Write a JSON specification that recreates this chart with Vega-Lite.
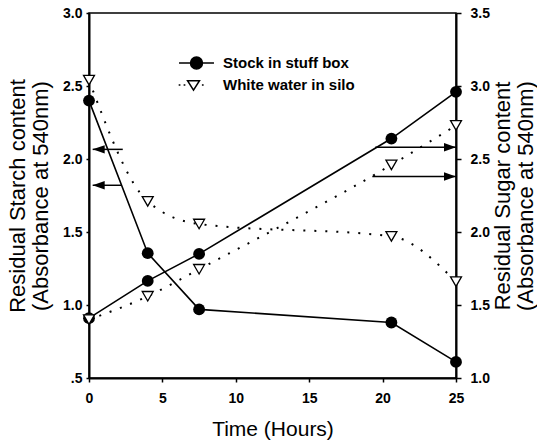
{
  "$schema": "https://vega.github.io/schema/vega-lite/v6.json",
  "width": 367,
  "height": 365,
  "autosize": {"type": "none"},
  "padding": {"left": 89, "top": 13, "right": 81, "bottom": 63},
  "background": "white",
  "config": {
    "font": "Liberation Sans",
    "view": {"stroke": "black", "strokeWidth": 1.5},
    "axis": {
      "grid": false,
      "domainColor": "black",
      "domainWidth": 2,
      "tickColor": "black",
      "tickWidth": 1.5,
      "labelColor": "black",
      "titleColor": "black",
      "labelFont": "Liberation Sans",
      "labelFontSize": 14,
      "labelFontWeight": "bold",
      "titleFont": "Liberation Sans",
      "titleFontSize": 22,
      "titleFontWeight": "normal",
      "titleLineHeight": 23,
      "labelFlush": false,
      "labelOverlap": false
    }
  },
  "datasets": {
    "measurements": [
      {"time": 0, "sample": "Stock in stuff box", "starch": 2.40, "sugar": 1.41},
      {"time": 4, "sample": "Stock in stuff box", "starch": 1.355, "sugar": 1.665},
      {"time": 7.5, "sample": "Stock in stuff box", "starch": 0.97, "sugar": 1.85},
      {"time": 20.6, "sample": "Stock in stuff box", "starch": 0.88, "sugar": 2.64},
      {"time": 25, "sample": "Stock in stuff box", "starch": 0.61, "sugar": 2.96},
      {"time": 0, "sample": "White water in silo", "starch": 2.54, "sugar": 1.40},
      {"time": 4, "sample": "White water in silo", "starch": 1.71, "sugar": 1.56},
      {"time": 7.5, "sample": "White water in silo", "starch": 1.555, "sugar": 1.745},
      {"time": 20.6, "sample": "White water in silo", "starch": 1.47, "sugar": 2.46},
      {"time": 25, "sample": "White water in silo", "starch": 1.16, "sugar": 2.73}
    ],
    "arrows": [
      {"side": "left", "time": 0.25, "time2": 2.3, "starch": 2.066},
      {"side": "left", "time": 0.25, "time2": 2.2, "starch": 1.82},
      {"side": "right", "time": 25, "time2": 19.5, "sugar": 2.58},
      {"side": "right", "time": 25, "time2": 19.3, "sugar": 2.38}
    ]
  },
  "encoding": {
    "x": {
      "field": "time",
      "type": "quantitative",
      "scale": {"domain": [0, 25], "nice": false, "zero": false},
      "axis": {
        "values": [0, 5, 10, 15, 20, 25],
        "title": "Time (Hours)",
        "titleFontSize": 21,
        "tickSize": 4,
        "labelPadding": 9,
        "titlePadding": 13
      }
    }
  },
  "resolve": {"scale": {"y": "independent"}},
  "layer": [
    {
      "data": {"name": "measurements"},
      "encoding": {
        "y": {
          "field": "starch",
          "type": "quantitative",
          "scale": {"domain": [0.5, 3.0], "nice": false, "zero": false},
          "axis": {
            "orient": "left",
            "values": [0.5, 1, 1.5, 2, 2.5, 3],
            "labelExpr": "datum.value == 0.5 ? '.5' : format(datum.value, '.1f')",
            "title": ["Residual Starch content", "(Absorbance at 540nm)"],
            "tickSize": 3,
            "labelPadding": 4,
            "titlePadding": 10
          }
        }
      },
      "layer": [
        {
          "transform": [{"filter": "datum.sample == 'Stock in stuff box'"}],
          "mark": {"type": "line", "color": "black", "strokeWidth": 1.6}
        },
        {
          "transform": [{"filter": "datum.sample == 'White water in silo'"}],
          "mark": {"type": "line", "color": "black", "strokeWidth": 2, "strokeDash": [2, 9], "interpolate": "monotone"}
        },
        {
          "transform": [{"filter": "datum.sample == 'Stock in stuff box'"}],
          "mark": {"type": "point", "shape": "circle", "filled": true, "color": "black", "size": 140, "opacity": 1}
        },
        {
          "transform": [{"filter": "datum.sample == 'White water in silo'"}],
          "mark": {"type": "point", "shape": "triangle-down", "filled": true, "color": "black", "fill": "white", "stroke": "black", "strokeWidth": 1.3, "size": 120, "opacity": 1}
        },
        {
          "data": {"name": "arrows"},
          "transform": [{"filter": "datum.side == 'left'"}],
          "mark": {"type": "rule", "color": "black", "strokeWidth": 1.5},
          "encoding": {"x2": {"field": "time2"}}
        },
        {
          "data": {"name": "arrows"},
          "transform": [{"filter": "datum.side == 'left'"}],
          "mark": {"type": "point", "shape": "M0,0L2,-0.7L2,0.7Z", "filled": true, "color": "black", "size": 144, "opacity": 1, "strokeWidth": 0}
        },
        {
          "mark": {"type": "point", "filled": true, "opacity": 0, "size": 529},
          "encoding": {
            "shape": {
              "field": "sample",
              "type": "nominal",
              "scale": {
                "domain": ["Stock in stuff box", "White water in silo"],
                "range": [
                  "M-1.52,0H1.52M0.52,0A0.52,0.52,0,1,1,-0.52,0A0.52,0.52,0,1,1,0.52,0Z",
                  "M-0.78,-0.38H0.26L-0.26,0.45ZM-1.55,0H-1.4M-1.12,0H-0.97M0.47,0H0.62"
                ]
              },
              "legend": {
                "title": null, "orient": "none", "legendX": 95, "legendY": 37.5,
                "labelFontSize": 15, "labelFontWeight": "bold", "labelFont": "Liberation Sans", "labelColor": "black",
                "symbolSize": 529, "symbolStrokeWidth": 1.5, "symbolOpacity": 1,
                "rowPadding": 0, "labelOffset": 14, "padding": 0
              }
            },
            "fill": {
              "field": "sample",
              "type": "nominal",
              "scale": {"domain": ["Stock in stuff box", "White water in silo"], "range": ["black", "white"]},
              "legend": {
                "title": null, "orient": "none", "legendX": 95, "legendY": 37.5,
                "labelFontSize": 15, "labelFontWeight": "bold", "labelFont": "Liberation Sans", "labelColor": "black",
                "symbolSize": 529, "symbolStrokeWidth": 1.5, "symbolOpacity": 1,
                "rowPadding": 0, "labelOffset": 14, "padding": 0
              }
            },
            "stroke": {"value": "black"}
          }
        }
      ]
    },
    {
      "data": {"name": "measurements"},
      "encoding": {
        "y": {
          "field": "sugar",
          "type": "quantitative",
          "scale": {"domain": [1.0, 3.5], "nice": false, "zero": false},
          "axis": {
            "orient": "right",
            "values": [1, 1.5, 2, 2.5, 3, 3.5],
            "format": ".1f",
            "title": ["Residual Sugar content", "(Absorbance at 540nm)"],
            "tickSize": 5,
            "labelPadding": 9,
            "titleAngle": 270,
            "titleBaseline": "top",
            "titlePadding": -20
          }
        }
      },
      "layer": [
        {
          "transform": [{"filter": "datum.sample == 'Stock in stuff box'"}],
          "mark": {"type": "line", "color": "black", "strokeWidth": 1.6}
        },
        {
          "transform": [{"filter": "datum.sample == 'White water in silo'"}],
          "mark": {"type": "line", "color": "black", "strokeWidth": 2, "strokeDash": [2, 9], "interpolate": "monotone"}
        },
        {
          "transform": [{"filter": "datum.sample == 'Stock in stuff box'"}],
          "mark": {"type": "point", "shape": "circle", "filled": true, "color": "black", "size": 140, "opacity": 1}
        },
        {
          "transform": [{"filter": "datum.sample == 'White water in silo'"}],
          "mark": {"type": "point", "shape": "triangle-down", "filled": true, "color": "black", "fill": "white", "stroke": "black", "strokeWidth": 1.3, "size": 120, "opacity": 1}
        },
        {
          "data": {"name": "arrows"},
          "transform": [{"filter": "datum.side == 'right'"}],
          "mark": {"type": "rule", "color": "black", "strokeWidth": 1.5},
          "encoding": {"x2": {"field": "time2"}}
        },
        {
          "data": {"name": "arrows"},
          "transform": [{"filter": "datum.side == 'right'"}],
          "mark": {"type": "point", "shape": "M0,0L-2,-0.7L-2,0.7Z", "filled": true, "color": "black", "size": 144, "opacity": 1, "strokeWidth": 0}
        }
      ]
    }
  ]
}
